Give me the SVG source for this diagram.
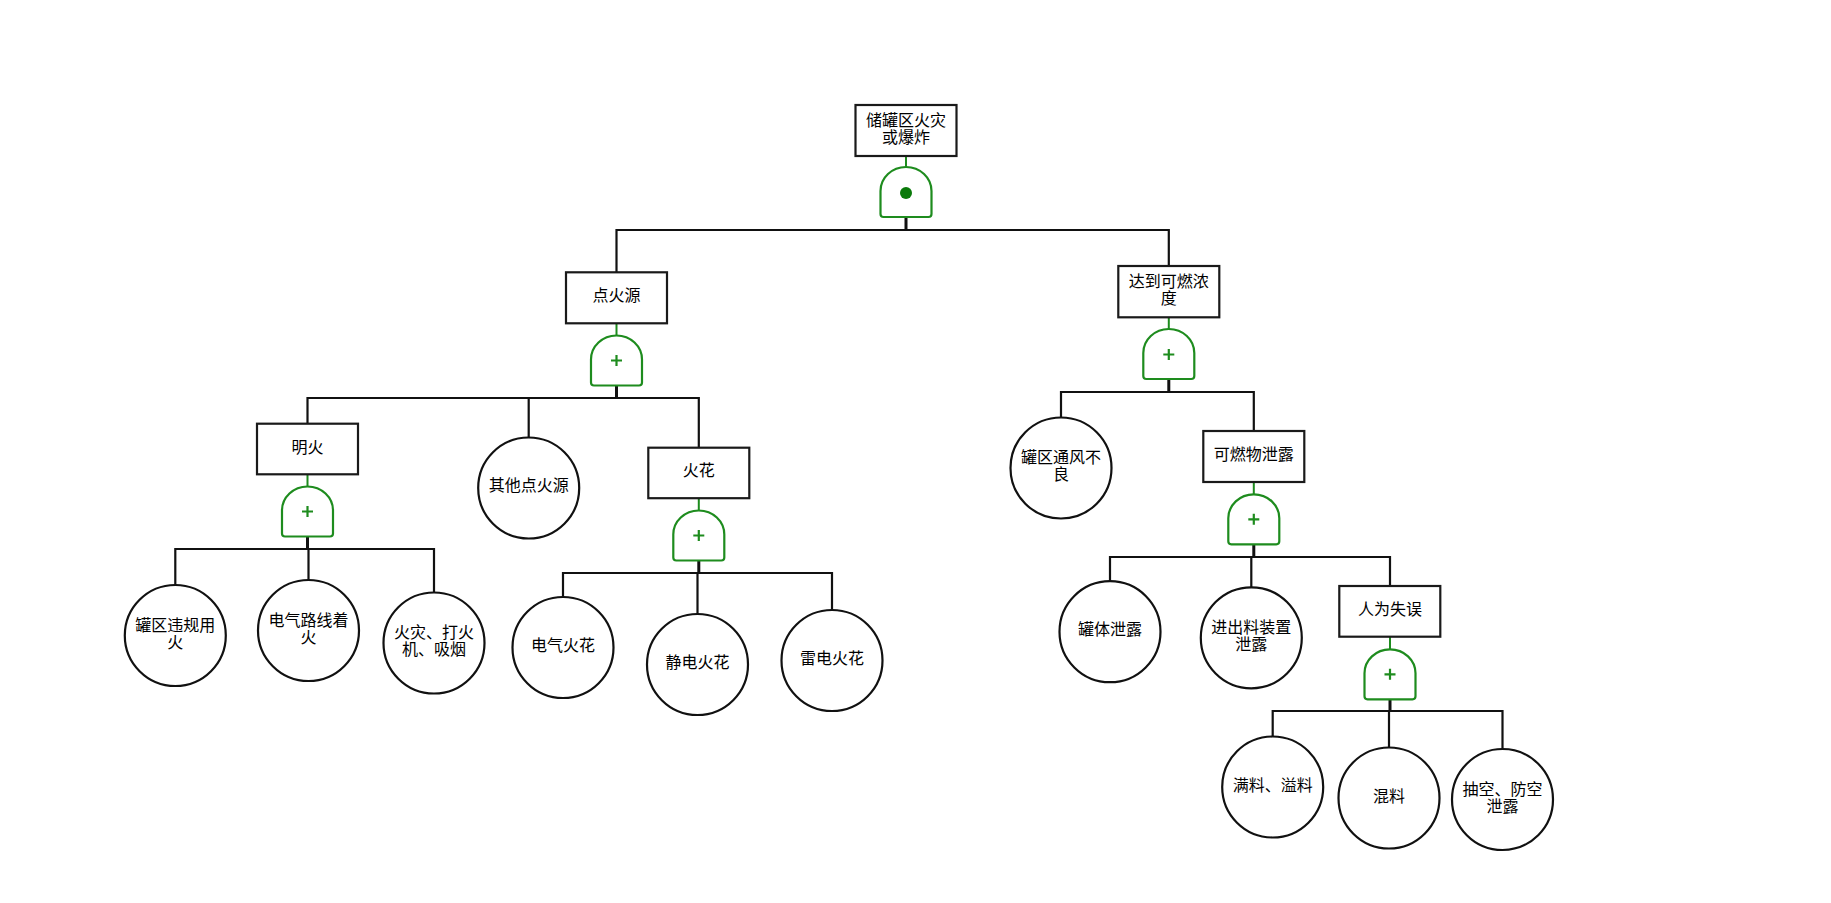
<svg xmlns="http://www.w3.org/2000/svg" width="1831" height="903" viewBox="0 0 1831 903">
<style>
.bg{fill:#ffffff}
.box{fill:#ffffff;stroke:#1a1a1a;stroke-width:2.2}
.circ{fill:#ffffff;stroke:#111;stroke-width:2.2}
.gate{fill:#ffffff;stroke:#1e8c1e;stroke-width:2.2}
.gl{stroke:#1e8c1e;stroke-width:2;fill:none}
.plus{stroke:#1e8c1e;stroke-width:2.2;fill:none}
.dot{fill:#0a7a0a}
.wire{stroke:#111;stroke-width:2.2;fill:none;stroke-linejoin:miter}
.stem{stroke:#111;stroke-width:3;fill:none}
text{font-family:"Noto Sans CJK SC","Noto Sans",sans-serif;font-size:16px;fill:#000;text-anchor:middle}
</style>
<defs>
<path id="gshape" d="M-25.5,47 V24 A25.5,24 0 0 1 25.5,24 V47 Q25.5,50 22.5,50 H-22.5 Q-25.5,50 -25.5,47 Z"/>
<path id="pl" d="M-5.5,0 H5.5 M0,-5.5 V5.5"/>
</defs>
<rect class="bg" x="0" y="0" width="1831" height="903"/>

<g id="connectors">
  <path class="gl" d="M906,156 V167 M616.5,323 V335 M307.5,474 V487 M698.8,498 V510 M1168.8,317 V329 M1253.8,482 V494 M1390,636.7 V649"/>
  <path class="stem" d="M906,217 V230 M616.5,386 V398 M307.5,536 V549 M698.8,561 V573 M1168.8,379 V392 M1253.8,544 V557 M1390,700 V711"/>
  <path class="wire" d="M616.5,272 V230 H1168.8 V266"/>
  <path class="wire" d="M307.5,424 V398 H698.8 V447.7 M528.7,398 V437.5"/>
  <path class="wire" d="M175.3,585 V549 H434 V592.5 M308.5,549 V580"/>
  <path class="wire" d="M563,597 V573 H832 V610 M697.5,573 V614"/>
  <path class="wire" d="M1061,417.5 V392 H1253.8 V431"/>
  <path class="wire" d="M1110,581.2 V557 H1390 V586 M1251.3,557 V587.3"/>
  <path class="wire" d="M1272.7,736.5 V711 H1502.5 V749 M1389,711 V747.5"/>
</g>

<g id="top_event">
  <rect class="box" x="855.5" y="105" width="101" height="51"/>
  <text x="906" y="125.5"><tspan x="906">储罐区火灾</tspan><tspan x="906" dy="17">或爆炸</tspan></text>
</g>
<g id="gate_top" transform="translate(906,167)">
  <use href="#gshape" class="gate"/>
  <circle class="dot" cx="0" cy="26" r="6"/>
</g>

<g id="n_dianhuoyuan">
  <rect class="box" x="566" y="272.3" width="101" height="51"/>
  <text x="616.5" y="301.3">点火源</text>
</g>
<g id="gate_dianhuoyuan" transform="translate(616.5,335.5)">
  <use href="#gshape" class="gate"/>
  <use href="#pl" class="plus" transform="translate(0,25)"/>
</g>

<g id="n_minghuo">
  <rect class="box" x="257" y="423.7" width="101" height="50.6"/>
  <text x="307.5" y="452.5">明火</text>
</g>
<g id="gate_minghuo" transform="translate(307.5,486.5)">
  <use href="#gshape" class="gate"/>
  <use href="#pl" class="plus" transform="translate(0,25)"/>
</g>

<g id="n_qita">
  <circle class="circ" cx="528.7" cy="488" r="50.5"/>
  <text x="528.7" y="491">其他点火源</text>
</g>

<g id="n_huohua">
  <rect class="box" x="648.3" y="447.7" width="101" height="50.5"/>
  <text x="698.8" y="476.3">火花</text>
</g>
<g id="gate_huohua" transform="translate(698.8,510.5)">
  <use href="#gshape" class="gate"/>
  <use href="#pl" class="plus" transform="translate(0,25)"/>
</g>

<g id="n_weigui">
  <circle class="circ" cx="175.3" cy="635.5" r="50.5"/>
  <text x="175.3" y="630.5"><tspan x="175.3">罐区违规用</tspan><tspan x="175.3" dy="17">火</tspan></text>
</g>
<g id="n_dianqi_luxian">
  <circle class="circ" cx="308.5" cy="630.5" r="50.5"/>
  <text x="308.5" y="625.5"><tspan x="308.5">电气路线着</tspan><tspan x="308.5" dy="17">火</tspan></text>
</g>
<g id="n_xiyan">
  <circle class="circ" cx="434" cy="643" r="50.5"/>
  <text x="434" y="638"><tspan x="434">火灾、打火</tspan><tspan x="434" dy="17">机、吸烟</tspan></text>
</g>

<g id="n_dianqi_huohua">
  <circle class="circ" cx="563" cy="647.5" r="50.5"/>
  <text x="563" y="651">电气火花</text>
</g>
<g id="n_jingdian">
  <circle class="circ" cx="697.5" cy="664.5" r="50.5"/>
  <text x="697.5" y="668">静电火花</text>
</g>
<g id="n_leidian">
  <circle class="circ" cx="832" cy="660.5" r="50.5"/>
  <text x="832" y="664">雷电火花</text>
</g>

<g id="n_nongdu">
  <rect class="box" x="1118.3" y="266" width="101" height="51.3"/>
  <text x="1168.8" y="286.7"><tspan x="1168.8">达到可燃浓</tspan><tspan x="1168.8" dy="17">度</tspan></text>
</g>
<g id="gate_nongdu" transform="translate(1168.8,329)">
  <use href="#gshape" class="gate"/>
  <use href="#pl" class="plus" transform="translate(0,25.5)"/>
</g>

<g id="n_tongfeng">
  <circle class="circ" cx="1061" cy="468" r="50.5"/>
  <text x="1061" y="463"><tspan x="1061">罐区通风不</tspan><tspan x="1061" dy="17">良</tspan></text>
</g>

<g id="n_xielou">
  <rect class="box" x="1203.3" y="431" width="101" height="51"/>
  <text x="1253.8" y="460">可燃物泄露</text>
</g>
<g id="gate_xielou" transform="translate(1253.8,494.3)">
  <use href="#gshape" class="gate"/>
  <use href="#pl" class="plus" transform="translate(0,25)"/>
</g>

<g id="n_guanti">
  <circle class="circ" cx="1110" cy="631.7" r="50.5"/>
  <text x="1110" y="635">罐体泄露</text>
</g>
<g id="n_jinchu">
  <circle class="circ" cx="1251.3" cy="637.8" r="50.5"/>
  <text x="1251.3" y="632.8"><tspan x="1251.3">进出料装置</tspan><tspan x="1251.3" dy="17">泄露</tspan></text>
</g>

<g id="n_renwei">
  <rect class="box" x="1339.3" y="586" width="101" height="50.7"/>
  <text x="1390" y="615">人为失误</text>
</g>
<g id="gate_renwei" transform="translate(1390,649.3)">
  <use href="#gshape" class="gate"/>
  <use href="#pl" class="plus" transform="translate(0,25)"/>
</g>

<g id="n_manliao">
  <circle class="circ" cx="1272.7" cy="787" r="50.5"/>
  <text x="1272.7" y="790.5">满料、溢料</text>
</g>
<g id="n_hunliao">
  <circle class="circ" cx="1389" cy="798" r="50.5"/>
  <text x="1389" y="801.5">混料</text>
</g>
<g id="n_chouk">
  <circle class="circ" cx="1502.5" cy="799.5" r="50.5"/>
  <text x="1502.5" y="794.5"><tspan x="1502.5">抽空、防空</tspan><tspan x="1502.5" dy="17">泄露</tspan></text>
</g>
</svg>
